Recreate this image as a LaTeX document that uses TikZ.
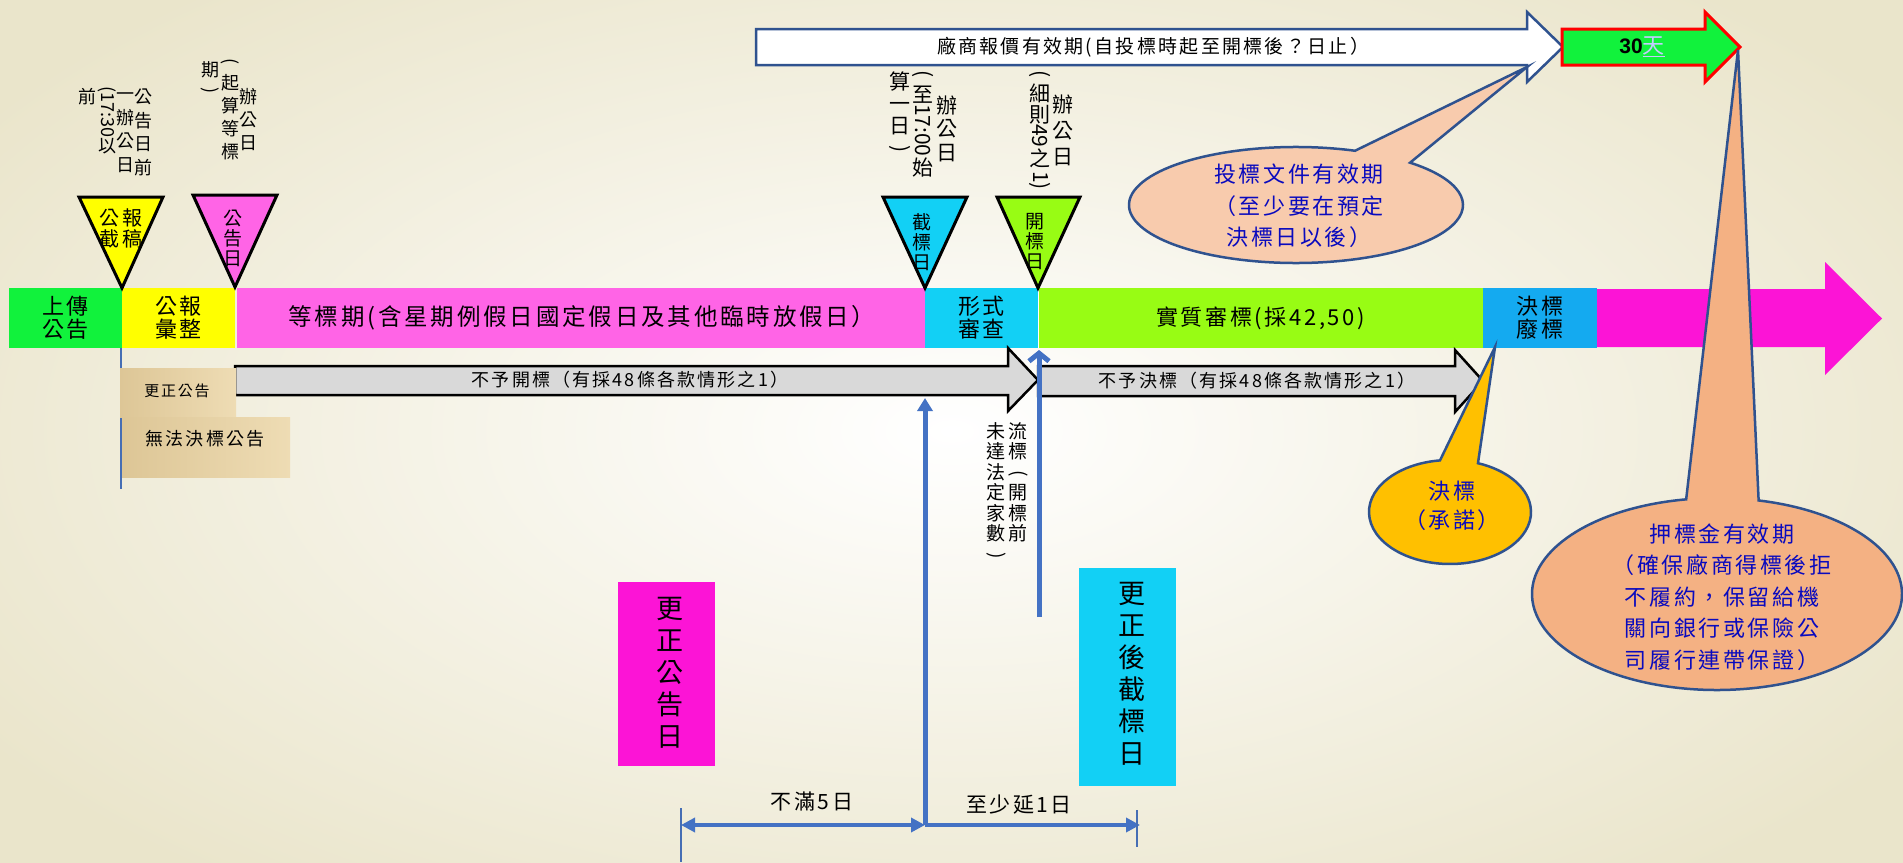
\documentclass[tikz,border=0pt]{standalone}
\usepackage{fontspec}
\usepackage{graphicx}
\newfontfamily\cjk{Noto Sans CJK TC}
\newfontfamily\cjks[LetterSpace=12]{Noto Sans CJK TC}
\newfontfamily\arialf{Liberation Sans}
\usetikzlibrary{arrows.meta}
\definecolor{bgc}{RGB}{234,229,203}
\definecolor{cgreen}{RGB}{17,242,60}
\definecolor{cyellow}{RGB}{255,255,0}
\definecolor{cpink}{RGB}{255,100,230}
\definecolor{ccyan}{RGB}{18,208,245}
\definecolor{clime}{RGB}{152,252,20}
\definecolor{cblue}{RGB}{20,170,240}
\definecolor{cmag}{RGB}{252,20,214}
\definecolor{greyf}{RGB}{217,217,217}
\definecolor{bblue}{RGB}{68,114,196}
\definecolor{cline}{RGB}{47,82,143}
\definecolor{cfillA}{RGB}{248,203,173}
\definecolor{cfillB}{RGB}{255,192,0}
\definecolor{cfillC}{RGB}{244,177,131}
\definecolor{ctext}{RGB}{10,10,190}
\definecolor{paperA}{RGB}{221,198,150}
\definecolor{paperB}{RGB}{238,220,180}
\definecolor{tianc}{RGB}{195,205,255}
\definecolor{thinl}{RGB}{70,110,180}
\tikzset{
  vt/.style 2 args={inner sep=0pt, align=center, font={\cjk\fontsize{#1}{#2}\selectfont}},
  vts/.style 2 args={inner sep=0pt, align=center, font={\cjks\fontsize{#1}{#2}\selectfont}},
  barbox/.style={minimum height=60pt, inner sep=0pt, align=center, font={\cjks\fontsize{22}{23}\selectfont}},
  tri/.style={draw=black, line width=3pt, line join=miter},
  garrow/.style={fill=greyf, draw=black, line width=2.5pt, line join=miter},
  callout/.style={draw=cline, line width=2.5pt, line join=miter},
  ctxt/.style={inner sep=0pt, align=center, text=ctext, font={\cjks\fontsize{22}{31.5}\selectfont}},
  bline/.style={draw=bblue, line width=5pt},
  hline/.style={draw=bblue, line width=4pt},
  tickl/.style={draw=thinl, line width=1.2pt},
  paperbox/.style={left color=paperA, right color=paperB, inner sep=0pt},
}
\newcommand\rotl[1]{\rotatebox[origin=c]{-90}{#1}}
\begin{document}
\begin{tikzpicture}[x=1pt,y=-1pt]
\useasboundingbox (0,0) rectangle (1903,862);
\shade[inner color=white, outer color=bgc] (-200,-150) rectangle (2103,1012);

% ---- main bar ----
\node[barbox, fill=cgreen, minimum width=113pt] (up) at (65.5,318) {上傳\\公告};
\node[barbox, fill=cyellow, minimum width=113pt] (gz) at (178.5,318) {公報\\彙整};
\node[barbox, fill=cpink, minimum width=690pt, font={\cjks\fontsize{23.5}{24}\selectfont}] (wait) at (582,318) {等標期(含星期例假日國定假日及其他臨時放假日）};
\node[barbox, fill=ccyan, minimum width=113pt] (fs) at (981.5,318) {形式\\審查};
\node[barbox, fill=clime, minimum width=445pt] (sz) at (1260.5,318) {實質審標(採42,50)};
\node[barbox, fill=cblue, minimum width=114pt] (jb) at (1540,318) {決標\\廢標};
\fill[cmag] (1597,289) -- (1825,289) -- (1825,262) -- (1882,318.5) -- (1825,375) -- (1825,347) -- (1597,347) -- cycle;
\draw[white, line width=1.5pt] (1038.5,288) -- (1038.5,348);

% ---- triangles ----
\draw[tri, fill=cyellow] (79,197) -- (163,197) -- (122,288) -- cycle;
\draw[tri, fill=cpink] (193,195) -- (277,195) -- (235,287) -- cycle;
\draw[tri, fill=ccyan] (883,197) -- (967,197) -- (925,288) -- cycle;
\draw[tri, fill=clime] (997,197) -- (1080,197) -- (1038,288) -- cycle;
\node[vts={20}{21}] (t1) at (121,228) {公報\\截稿};
\node[vt={19}{20}] (t2) at (233,238) {公\\告\\日};
\node[vt={19}{20}] (t3) at (922,242) {截\\標\\日};
\node[vt={19}{20}] (t4) at (1035,242) {開\\標\\日};

% ---- vertical annotations ----
\node[vt={18}{23.5}] (a1c1) at (143,132.5) {公\\告\\日\\前};
\node[vt={18}{23.5}] (a1c2) at (125,132.5) {一\\辦\\公\\日};
\node[vt={18}{23.5}, anchor=north] (a1c3) at (107,86) {\rotl{(17:30}\\以};
\node[vt={18}{23.5}] (a1c4) at (87,97) {前};

\node[vt={18}{23}] (a2c1) at (248,120) {辦\\公\\日};
\node[vt={18}{23}, anchor=north] (a2c2) at (230,58) {\rotl{(}\\起\\算\\等\\標};
\node[vt={18}{20}, anchor=north] (a2c3) at (210,61) {期\\\rotl{)}};

\node[vt={21}{23.5}] (a3c1) at (947,128.5) {辦\\公\\日};
\node[vt={21}{22}, anchor=north] (a3c2) at (923,70) {\rotl{(}\\至\\\rotl{17:00}\\始};
\node[vt={21}{22}, anchor=north] (a3c3) at (900,72) {算\\一\\日\\\rotl{)}};

\node[vt={21}{26}] (a4c1) at (1063,130) {辦\\公\\日};
\node[vt={21}{21}, anchor=north] (a4c2) at (1040,70) {\rotl{(}\\細\\則\\\rotl{49}\\之\\\rotl{1)}};

% ---- top arrows ----
\draw[draw=cline, line width=2.5pt, fill=white, line join=miter] (756,29) -- (1527,29) -- (1527,12) -- (1563,47) -- (1527,82) -- (1527,65) -- (756,65) -- cycle;
\node[vts={19}{20}] (offer) at (1153,47) {廠商報價有效期(自投標時起至開標後？日止）};
\draw[draw=red, line width=3pt, fill=cgreen, line join=miter] (1562,29) -- (1705,29) -- (1705,12) -- (1740,47) -- (1705,82) -- (1705,65) -- (1562,65) -- cycle;
\node[inner sep=0pt] (d30) at (1642,47) {{\arialf\bfseries\fontsize{21}{21}\selectfont 30}{\cjk\fontsize{22}{22}\selectfont\color{tianc}\underline{天}}};

% ---- grey arrows ----
\draw[garrow] (235,366) -- (1008,366) -- (1008,348) -- (1038,380) -- (1008,411) -- (1008,395) -- (235,395) -- cycle;
\node[vts={18}{19}] (ga1) at (630,380) {不予開標（有採48條各款情形之1）};
\draw[garrow] (1038,366) -- (1455,366) -- (1455,350) -- (1483,381) -- (1455,412) -- (1455,396) -- (1038,396) -- cycle;
\node[vts={18}{19}] (ga2) at (1257,381) {不予決標（有採48條各款情形之1）};

% ---- paper boxes ----
\draw[tickl] (121,348) -- (121,489);
\node[paperbox, minimum width=116pt, minimum height=49pt] (pb1) at (178,392.5) {};
\node[vts={15}{16}] (pb1t) at (177,391) {更正公告};
\node[paperbox, minimum width=168pt, minimum height=60pt] (pb2) at (206,447) {};
\node[vts={18}{19}] (pb2t) at (205,439) {無法決標公告};

% ---- blue arrows ----
\coordinate (Abot) at (925,825);
\coordinate (Atop) at (925,398);
\coordinate (Bbot) at (1039,617);
\coordinate (Btop) at (1039,350);
\coordinate (Lend) at (681,825);
\coordinate (Rend) at (1140,825);
\draw[bline, -{Triangle[length=13pt,width=15pt]}] (Abot) -- (Atop);
\draw[bline, -{Straight Barb[length=8pt,width=20pt]}] (Bbot) -- (Btop);
\draw[hline, {Triangle[length=14pt,width=14pt]}-{Triangle[length=14pt,width=14pt]}] (Lend) -- (Abot);
\draw[hline, -{Triangle[length=14pt,width=14pt]}] (Abot) -- (Rend);
\draw[tickl] (681,808) -- (681,862);
\draw[tickl] (1137,810) -- (1137,847);
\node[vts={21}{22}] (lt5) at (812,801) {不滿5日};
\node[vts={21}{22}] (lt1) at (1019,805) {至少延1日};

\node[vt={19}{20.5}, anchor=north] (lb1) at (1018,422) {流\\標\\\rotl{(}\\開\\標\\前};
\node[vt={19}{20.5}, anchor=north] (lb2) at (996,422) {未\\達\\法\\定\\家\\數\\\rotl{)}};

% ---- bottom boxes ----
\node[fill=cmag, minimum width=97pt, minimum height=184pt, inner sep=0pt] (gzr) at (666.5,674) {};
\node[vt={27}{32}] (gzrt) at (670,673) {更\\正\\公\\告\\日};
\node[fill=ccyan, minimum width=97pt, minimum height=218pt, inner sep=0pt] (gzj) at (1127.5,677) {};
\node[vt={27}{32}] (gzjt) at (1132,674) {更\\正\\後\\截\\標\\日};

% ---- callouts ----
\draw[callout, fill=cfillA] ({1296+167*cos(-46.9)},{205+58*sin(-46.9)}) -- (1527,67) -- ({1296+167*cos(-69.3)},{205+58*sin(-69.3)}) arc[start angle=-69.3, end angle=-406.9, x radius=167, y radius=58] -- cycle;
\node[ctxt] (c1) at (1299,206) {投標文件有效期\\（至少要在預定\\決標日以後）};

\draw[callout, fill=cfillB] ({1450+81*cos(-69.8)},{512+52*sin(-69.8)}) -- (1495,347) -- ({1450+81*cos(-97.1)},{512+52*sin(-97.1)}) arc[start angle=-97.1, end angle=-429.8, x radius=81, y radius=52] -- cycle;
\node[ctxt, font={\cjks\fontsize{22}{29}\selectfont}] (c2) at (1452,506) {決標\\（承諾）};

\draw[callout, fill=cfillC] ({1717+185*cos(-77.0)},{594+96*sin(-77.0)}) -- (1738,50) -- ({1717+185*cos(-99.6)},{594+96*sin(-99.6)}) arc[start angle=-99.6, end angle=-437.0, x radius=185, y radius=96] -- cycle;
\node[ctxt] (c3) at (1722,597) {押標金有效期\\（確保廠商得標後拒\\不履約，保留給機\\關向銀行或保險公\\司履行連帶保證）};
\end{tikzpicture}
\end{document}
